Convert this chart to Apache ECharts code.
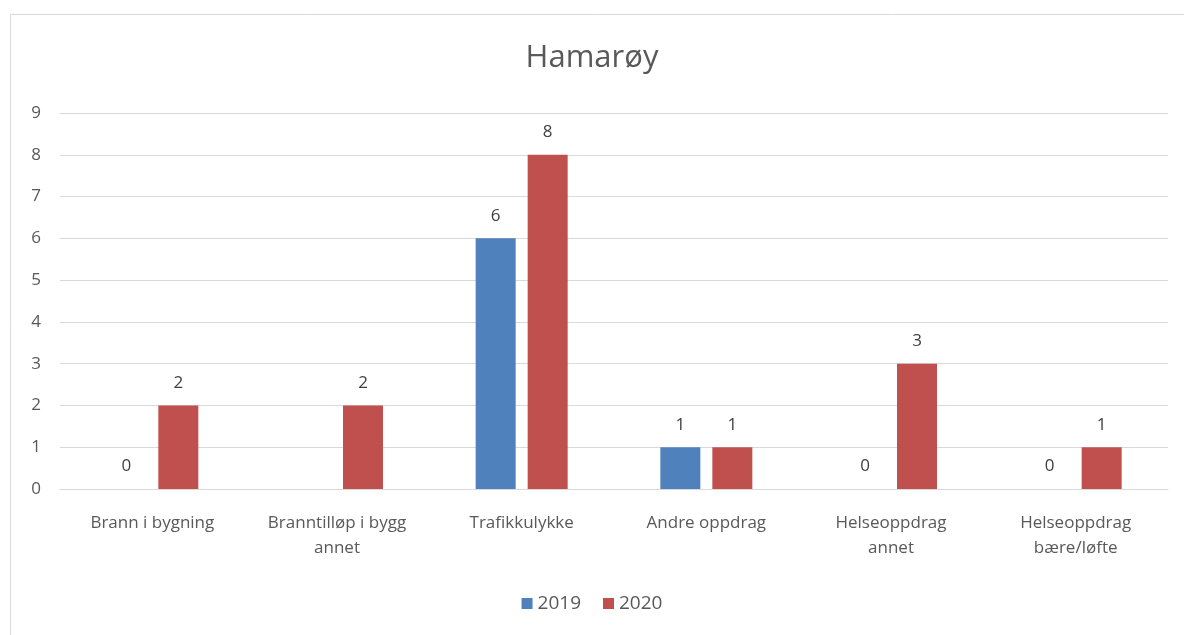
<!DOCTYPE html>
<html>
<head>
<meta charset="utf-8">
<script src="https://cdn.jsdelivr.net/npm/echarts@6/dist/echarts.min.js"></script>
<style>
html,body{margin:0;padding:0;background:#fff;}
#c{width:1184px;height:635px;}
</style>
</head>
<body>
<div id="c"></div>
<script>
const title = 'Hamarøy';
const categories = ['Brann i bygning', 'Branntilløp i bygg\nannet', 'Trafikkulykke', 'Andre oppdrag', 'Helseoppdrag\nannet', 'Helseoppdrag\nbære/løfte'];
const seriesNames = ['2019', '2020'];
const values2019 = [0, null, 6, 1, 0, 0];
const values2020 = [2, 2, 8, 1, 3, 1];
const yTicks = [0, 9, 1];

const font = 'Open Sans';
const chart = echarts.init(document.getElementById('c'));
const lbl = {show: true, position: 'top', distance: 14, color: '#404040', fontSize: 17, fontFamily: font};
chart.setOption({
  animation: false,
  textStyle: {fontFamily: font},
  graphic: [{type: 'rect', shape: {x: 10.5, y: 14.5, width: 1300, height: 800}, style: {fill: 'none', stroke: '#d9d9d9', lineWidth: 1}, silent: true}],
  title: {text: title, left: 'center', top: 38, textStyle: {fontSize: 31, fontWeight: 'normal', color: '#595959', fontFamily: font}},
  legend: {bottom: 17, left: 'center', itemWidth: 11, itemHeight: 11, itemGap: 22, icon: 'rect',
    textStyle: {fontSize: 19, color: '#595959', fontFamily: font}},
  grid: {left: 60, right: 16, top: 113, bottom: 146, containLabel: false},
  xAxis: {type: 'category', data: categories,
    axisLine: {lineStyle: {color: '#d9d9d9'}}, axisTick: {show: false},
    axisLabel: {color: '#595959', fontSize: 17, lineHeight: 25, margin: 22, interval: 0, fontFamily: font}},
  yAxis: {type: 'value', min: yTicks[0], max: yTicks[1], interval: yTicks[2],
    axisLine: {show: false}, axisTick: {show: false},
    axisLabel: {color: '#595959', fontSize: 17, margin: 19, fontFamily: font},
    splitLine: {lineStyle: {color: '#d9d9d9'}}},
  series: [
    {name: seriesNames[0], type: 'bar', data: values2019, barWidth: 40, barGap: '30%', itemStyle: {color: '#4F81BD'}, label: lbl},
    {name: seriesNames[1], type: 'bar', data: values2020, barWidth: 40, barGap: '30%', itemStyle: {color: '#C0504D'}, label: lbl}
  ]
});
</script>
</body>
</html>
